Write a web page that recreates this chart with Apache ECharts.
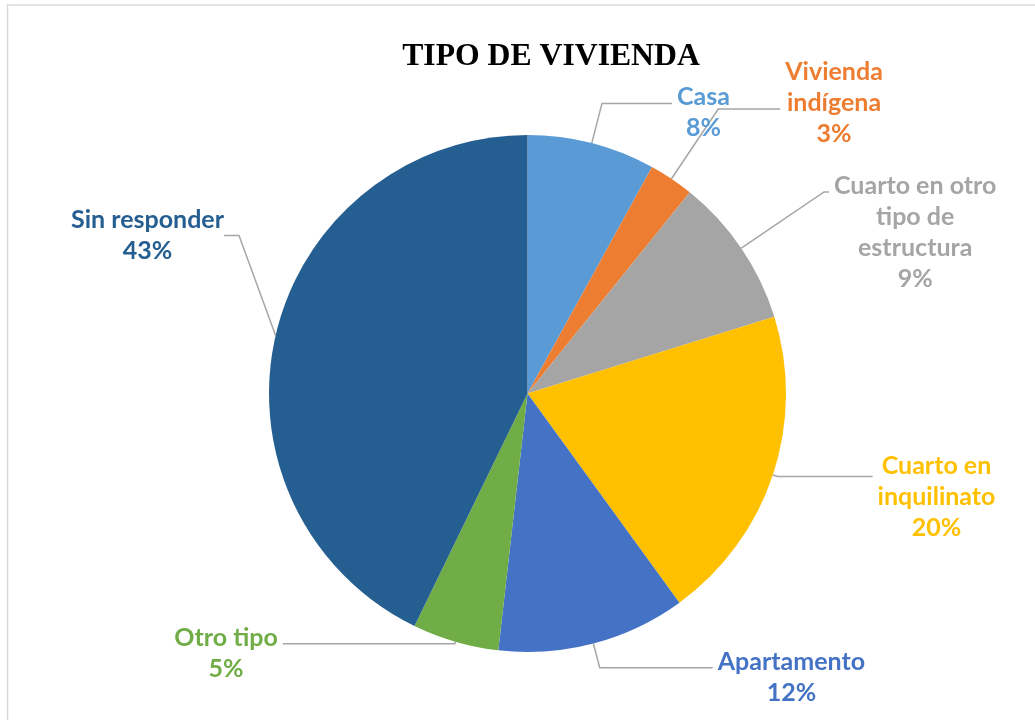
<!DOCTYPE html>
<html><head><meta charset="utf-8">
<script src="https://cdn.jsdelivr.net/npm/echarts@6/dist/echarts.min.js"></script>
<style>html,body{margin:0;padding:0;background:#fff}#c{width:1035px;height:720px}</style>
</head><body><div id="c"></div>
<script>
// Data
const categories = ['Casa', 'Vivienda\nindígena', 'Cuarto en otro\ntipo de\nestructura', 'Cuarto en\ninquilinato', 'Apartamento', 'Otro tipo', 'Sin responder'];
const values = [8.0, 2.8, 9.4, 19.8, 11.8, 5.4, 42.8];
const titleText = 'TIPO DE VIVIENDA';

// Styles (kept separate from data)
const colors = ['#5B9BD5', '#ED7D31', '#A5A5A5', '#FFC000', '#4472C4', '#70AD47', '#255E91'];
const leaderLengths = [[41, 70], [84, 62], [100, 5], [5, 95], [25, 113], [2, 172], [10, 15]];
const labelPads = [[19, 0], [0, 12], [81, 0], [40, 0], [19, 0], [19, 0], [19, 0]];
const LINE_H = 31;
const LABEL_FONT = 'Lato';
const LABEL_SIZE = 25;

const chart = echarts.init(document.getElementById('c'), null, {renderer: 'canvas'});

const seriesData = categories.map((name, i) => ({
  name: name,
  value: values[i],
  itemStyle: {color: colors[i]},
  label: {color: colors[i], padding: [labelPads[i][0], 0, labelPads[i][1], 0]},
  labelLine: {length: leaderLengths[i][0], length2: leaderLengths[i][1]}
}));

chart.setOption({
  animation: false,
  backgroundColor: '#ffffff',
  title: {
    text: titleText,
    left: 546,
    top: 36,
    textAlign: 'center',
    textStyle: {fontFamily: 'Liberation Serif', fontWeight: 'bold', fontSize: 31.7, color: '#000000'}
  },
  graphic: [{
    type: 'rect',
    silent: true,
    z: -1,
    shape: {x: 7.5, y: 5, width: 1100, height: 800},
    style: {fill: 'none', stroke: '#D9D9D9', lineWidth: 1.5}
  }],
  series: [{
    type: 'pie',
    center: [527.5, 393.5],
    radius: 258.5,
    startAngle: 90,
    clockwise: true,
    avoidLabelOverlap: false,
    data: seriesData,
    itemStyle: {borderWidth: 0},
    label: {
      show: true,
      position: 'outside',
      distanceToLabelLine: 5,
      formatter: function (p) {
        const lines = p.name.split('\n').concat([Math.round(p.percent) + '%']);
        return lines.map(s => '{c|' + s + '}').join('\n');
      },
      rich: {
        c: {align: 'center', fontFamily: LABEL_FONT, fontWeight: 'bold', fontSize: LABEL_SIZE, lineHeight: LINE_H}
      }
    },
    labelLine: {show: true, smooth: false, lineStyle: {color: '#A6A6A6', width: 1.5}},
    labelLayout: function (params) {
      if (params.dataIndex === 6) {
        return {x: 224, y: 226};
      }
      return {};
    }
  }]
});
</script></body></html>
